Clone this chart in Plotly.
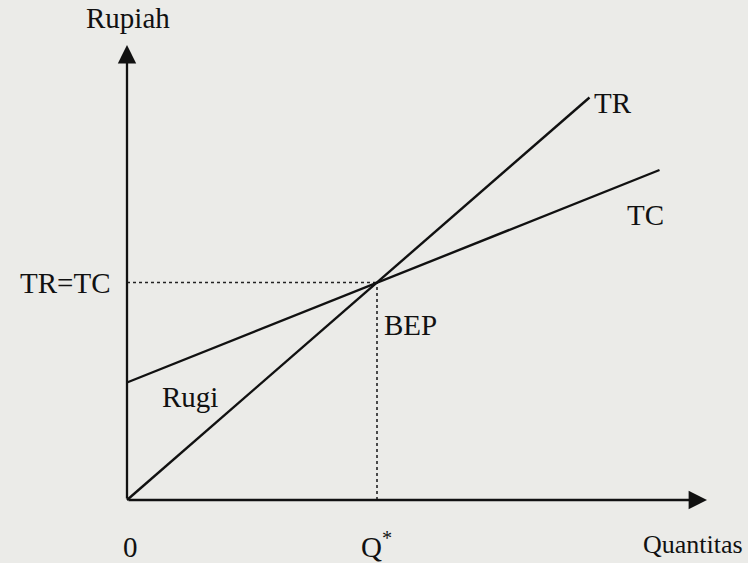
import plotly.graph_objects as go

# break-even diagram values (1 unit ~ 50 px)
q_tr = [0, 9.25]
tr = [0, 8.05]
q_tc = [0, 10.65]
tc = [2.35, 6.6]
q_bep = 5.0
y_bep = 4.35
x_axis_end = 11.6
y_axis_end = 9.1

font = dict(family="Liberation Serif, Times New Roman, serif", size=29, color="#111111")

fig = go.Figure()

# dotted guides to the BEP
fig.add_trace(go.Scatter(x=[0, q_bep], y=[y_bep, y_bep], mode="lines",
                         line=dict(color="#222222", width=1.6, dash="dot"), hoverinfo="skip"))
fig.add_trace(go.Scatter(x=[q_bep, q_bep], y=[0, y_bep], mode="lines",
                         line=dict(color="#222222", width=1.6, dash="dot"), hoverinfo="skip"))

# TR and TC lines
fig.add_trace(go.Scatter(x=q_tr, y=tr, mode="lines", name="TR",
                         line=dict(color="#111111", width=2.4)))
fig.add_trace(go.Scatter(x=q_tc, y=tc, mode="lines", name="TC",
                         line=dict(color="#111111", width=2.4)))

# axes with arrows
for x1, y1 in [(0, y_axis_end), (x_axis_end, 0)]:
    fig.add_annotation(x=x1, y=y1, ax=0, ay=0, xref="x", yref="y", axref="x", ayref="y",
                       text="", showarrow=True, arrowhead=2, arrowsize=1.6,
                       arrowwidth=2.3, arrowcolor="#111111")

labels = [
    ("Rupiah", 0.02, 9.64, "center", 29),
    ("TR", 9.3, 7.94, "left", 29),
    ("TC", 10.36, 5.7, "center", 29),
    ("TR=TC", -0.3, 4.34, "right", 29),
    ("BEP", 5.66, 3.5, "center", 29),
    ("Rugi", 1.26, 2.06, "center", 29),
    ("0", 0.06, -0.94, "center", 29),
    ("Q<sup>*</sup>", 4.98, -0.9, "center", 29),
    ("Quantitas", 12.36, -0.88, "right", 26),
]
for text, x, y, anchor, size in labels:
    fig.add_annotation(x=x, y=y, text=text, showarrow=False, xanchor=anchor,
                       yanchor="middle", font=dict(font, size=size))

fig.update_xaxes(range=[-2.54, 12.42], visible=False, fixedrange=True)
fig.update_yaxes(range=[-1.26, 10.0], visible=False, fixedrange=True)
fig.update_layout(
    width=748, height=563,
    margin=dict(l=0, r=0, t=0, b=0),
    showlegend=False,
    paper_bgcolor="#ebebe8",
    plot_bgcolor="#ebebe8",
)

fig.write_html("out.html", config={"displayModeBar": False},
               post_script="document.body.style.margin='0';document.body.style.overflow='hidden';")
